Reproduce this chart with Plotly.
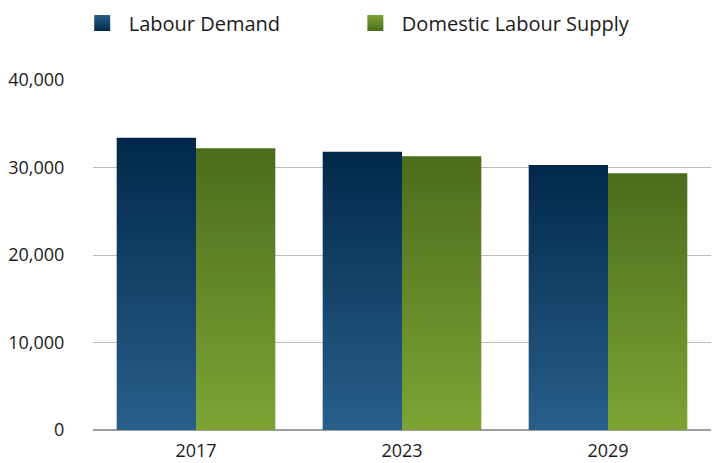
import plotly.graph_objects as go

years = ["2017", "2023", "2029"]
labour_demand = [33400, 31800, 30300]
domestic_supply = [32200, 31300, 29350]
series_names = ["Labour Demand", "Domestic Labour Supply"]
y_ticks = [0, 10000, 20000, 30000, 40000]

demand_scale = [[0, "#285f8a"], [1, "#01284a"]]
supply_scale = [[0, "#7ca434"], [1, "#4a6c1c"]]

half = 0.385
fig = go.Figure()

def add_bars(values, offset_sign, scale):
    for i, v in enumerate(values):
        if offset_sign < 0:
            x0, x1 = i - half, i
        else:
            x0, x1 = i, i + half
        fig.add_trace(go.Scatter(
            x=[x0, x1, x1, x0, x0], y=[0, 0, v, v, 0],
            mode="none", fill="toself",
            fillgradient=dict(type="vertical", colorscale=scale, start=0, stop=v),
            showlegend=False, hoverinfo="skip"))

add_bars(labour_demand, -1, demand_scale)
add_bars(domestic_supply, 1, supply_scale)

for name, scale, leg in zip(series_names, [demand_scale, supply_scale], ["legend", "legend2"]):
    fig.add_trace(go.Scatter(
        x=[None], y=[None], mode="markers", name=name, legend=leg,
        marker=dict(symbol="square", size=17, color=scale[0][1],
                    gradient=dict(type="vertical", color=scale[1][1]),
                    line=dict(width=0))))

legend_common = dict(orientation="h", y=1.163, yanchor="middle", xanchor="left",
                     font=dict(size=20), itemwidth=43, bgcolor="rgba(0,0,0,0)")

fig.update_layout(
    width=714, height=463,
    margin=dict(l=93, r=3, t=80, b=33, autoexpand=False),
    paper_bgcolor="white", plot_bgcolor="white",
    font=dict(family="Open Sans", color="#1a1a1a", size=18),
    showlegend=True,
    legend=dict(x=-0.028, **legend_common),
    legend2=dict(x=0.414, **legend_common),
    xaxis=dict(range=[-0.5, 2.5], tickvals=[0, 1, 2], ticktext=years,
               showgrid=False, zeroline=False, showline=False, automargin=False,
               ticks="outside", ticklen=0, ticklabelstandoff=4, fixedrange=True),
    yaxis=dict(range=[0, 40000], tickvals=y_ticks, tickformat=",",
               showgrid=True, gridcolor="#bdbdbd", gridwidth=1, automargin=False,
               zeroline=True, zerolinecolor="#9e9e9e", zerolinewidth=2,
               showline=False, ticks="outside", ticklen=0,
               ticklabelstandoff=24, fixedrange=True),
)
fig.write_html("out.html", config={"displayModeBar": False},
               post_script="document.body.style.margin='0';")
